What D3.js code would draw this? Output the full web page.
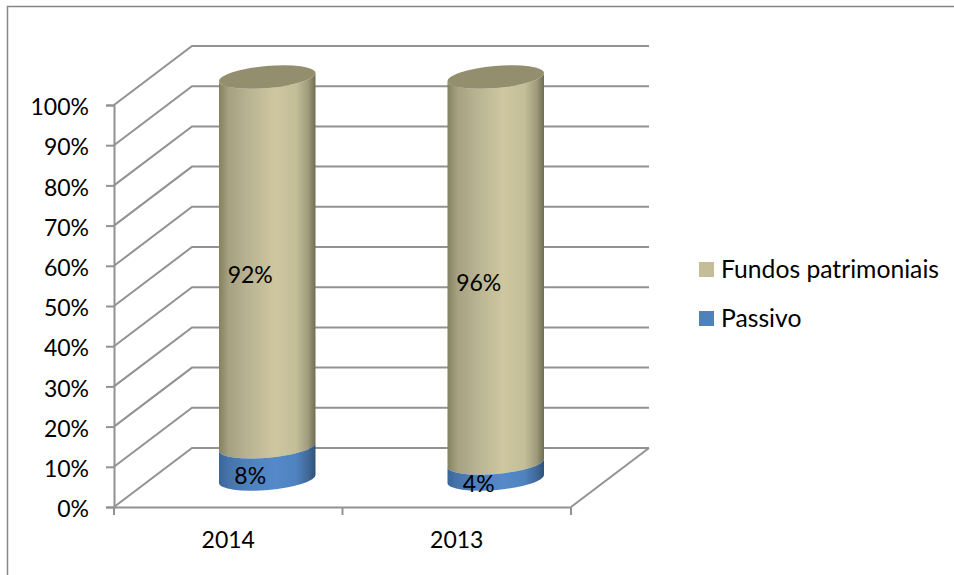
<!DOCTYPE html>
<html>
<head>
<meta charset="utf-8">
<script src="https://d3js.org/d3.v7.min.js"></script>
<style>
  html, body { margin: 0; padding: 0; background: #fff; }
  text { font-family: Lato, "Open Sans", sans-serif; fill: #000; }
</style>
</head>
<body>
<svg id="chart" width="954" height="575"></svg>
<script>
// Data
const years = ["2014", "2013"];
const passivo = [8, 4];
const fundos = [92, 96];
const legendLabels = ["Fundos patrimoniais", "Passivo"];
const legendColors = ["#c4bd97", "#4f81bd"];
const yTicks = [0, 10, 20, 30, 40, 50, 60, 70, 80, 90, 100];

const svg = d3.select("#chart");
const gridColor = "#929292";
const fontSize = 23;
const legendFontSize = 24.7;
const lineWidth = 2;

// Depth of the 3D box
const depthX = 78;
const depthY = -59;

const x = d3.scaleBand().domain(years).range([114, 571]);
const y = d3.scaleLinear().domain([0, 100]).range([507, 105]);

// Chart border (only top and left are visible)
svg.append("path")
  .attr("d", "M954,6.5H7.5V575")
  .attr("fill", "none")
  .attr("stroke", "#868686")
  .attr("stroke-width", 1.5);

// Gradients for the cylinder sides
const defs = svg.append("defs");
function addGradient(id, stops) {
  const g = defs.append("linearGradient").attr("id", id);
  stops.forEach((s) => {
    g.append("stop").attr("offset", s[0]).attr("stop-color", s[1]);
  });
}
addGradient("tanSide", [
  [0, "#84815f"], [0.1, "#a5a181"], [0.3, "#b8b391"], [0.58, "#cec7a0"],
  [0.8, "#c3bd98"], [0.92, "#a09c7c"], [1, "#6f6d55"],
]);
addGradient("blueSide", [
  [0, "#3a6698"], [0.1, "#4674ab"], [0.3, "#4d80bd"], [0.58, "#5589c9"],
  [0.8, "#4f82bf"], [0.92, "#41699a"], [1, "#2f5379"],
]);

// Walls and floor gridlines
const grid = svg.append("g")
  .attr("fill", "none")
  .attr("stroke", gridColor)
  .attr("stroke-width", lineWidth);

grid.selectAll("path.wall")
  .data(yTicks)
  .join("path")
  .attr("class", "wall")
  .attr("d", (d) => {
    const yy = y(d);
    return `M${x.range()[0]},${yy}L${x.range()[0] + depthX},${yy + depthY}H${x.range()[1] + depthX}`;
  });

// Right edge of the floor
grid.append("path")
  .attr("d", `M${x.range()[1]},${y(0)}L${x.range()[1] + depthX},${y(0) + depthY}`);

// Y axis
const yAxis = d3.axisLeft(y)
  .tickValues(yTicks)
  .tickFormat((d) => d + "%")
  .tickSize(8)
  .tickPadding(17);
const yG = svg.append("g").attr("transform", `translate(${x.range()[0]},0)`).call(yAxis);
yG.select(".domain").attr("stroke", gridColor).attr("stroke-width", lineWidth);
yG.selectAll("line").attr("stroke", gridColor).attr("stroke-width", lineWidth);
yG.selectAll("text").style("font-size", fontSize + "px").attr("dy", "0.42em");

// X axis
const xAxis = d3.axisBottom(x).tickSize(0).tickPadding(25);
const xG = svg.append("g").attr("transform", `translate(0,${y(0)})`).call(xAxis);
xG.select(".domain").attr("stroke", gridColor).attr("stroke-width", lineWidth);
xG.selectAll("text").style("font-size", fontSize + "px");

// Tick marks sit between the categories
svg.append("g")
  .selectAll("line")
  .data([x.range()[0], x(years[1]), x.range()[1]])
  .join("line")
  .attr("x1", (d) => d)
  .attr("x2", (d) => d)
  .attr("y1", y(0))
  .attr("y2", y(0) + 8)
  .attr("stroke", gridColor)
  .attr("stroke-width", lineWidth);

// Cylinders
const rx = x.bandwidth() * 0.212;
const ry = 11;
const tilt = -5;
const tipX = rx * Math.cos((tilt * Math.PI) / 180);
const tipY = rx * Math.sin((tilt * Math.PI) / 180);

function cylinderCx(year) {
  return x(year) + x.bandwidth() / 2 + depthX / 2;
}
function levelY(v) {
  return y(v) + depthY / 2 + 1.5;
}
// Side of a stacked segment, between two values
function sidePath(cx, v0, v1) {
  const y0 = levelY(v0);
  const y1 = levelY(v1);
  return `M${cx - tipX},${y1 - tipY}` +
    `A${rx},${ry} ${tilt} 0 0 ${cx + tipX},${y1 + tipY}` +
    `L${cx + tipX},${y0 + tipY}` +
    `A${rx},${ry} ${tilt} 0 1 ${cx - tipX},${y0 - tipY}Z`;
}

const bars = svg.append("g")
  .selectAll("g")
  .data(years)
  .join("g");

bars.append("path")
  .attr("fill", "url(#tanSide)")
  .attr("d", (d, i) => sidePath(cylinderCx(d), passivo[i], passivo[i] + fundos[i]));

bars.append("path")
  .attr("fill", "url(#blueSide)")
  .attr("d", (d, i) => sidePath(cylinderCx(d), 0, passivo[i]));

// Top cap
bars.append("ellipse")
  .attr("rx", rx)
  .attr("ry", ry)
  .attr("fill", "#928e6e")
  .attr("transform", (d, i) =>
    `translate(${cylinderCx(d)},${levelY(passivo[i] + fundos[i])}) rotate(${tilt})`);

// Data labels
function addLabel(sel, text, value) {
  sel.append("text")
    .attr("x", (d) => cylinderCx(d) - 17)
    .attr("y", (d, i) => levelY(value(i)) + 13)
    .attr("text-anchor", "middle")
    .attr("dy", "0.36em")
    .style("font-size", fontSize + "px")
    .text((d, i) => text(i) + "%");
}
addLabel(bars, (i) => fundos[i], (i) => passivo[i] + fundos[i] / 2);
addLabel(bars, (i) => passivo[i], (i) => passivo[i] / 2);

// Legend
const legend = svg.append("g")
  .selectAll("g")
  .data(legendLabels)
  .join("g")
  .attr("transform", (d, i) => `translate(699,${262 + i * 49})`);

legend.append("rect")
  .attr("width", 15)
  .attr("height", 15)
  .attr("fill", (d, i) => legendColors[i]);

legend.append("text")
  .attr("x", 22)
  .attr("y", 7)
  .attr("dy", "0.36em")
  .style("font-size", legendFontSize + "px")
  .text((d) => d);
</script>
</body>
</html>
